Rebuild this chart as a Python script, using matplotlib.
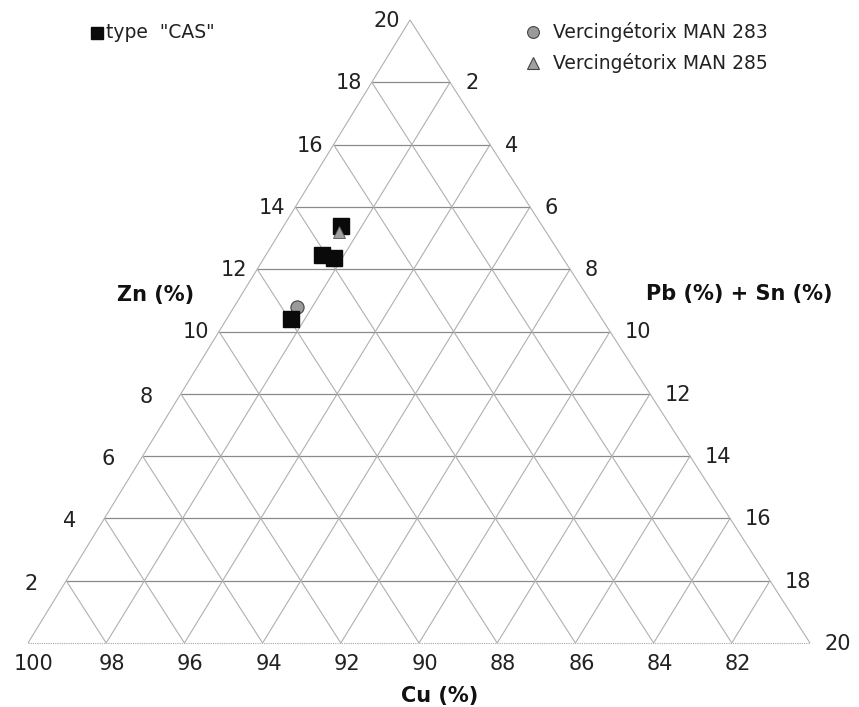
import matplotlib
matplotlib.use("Agg")
import matplotlib.pyplot as plt

plt.rcParams['font.family'] = ['DejaVu Sans']

# ternary data: Zn (%) and Pb+Sn (%), Cu = 100 - Zn - Pb
cas_zn = [13.4, 12.45, 12.35, 10.4]
cas_pb = [1.45, 1.45, 1.8, 1.65]
man283_zn = [10.8]
man283_pb = [1.6]
man285_zn = [13.2]
man285_pb = [1.5]

grid_steps = [2, 4, 6, 8, 10, 12, 14, 16, 18]
zn_ticks = [2, 4, 6, 8, 10, 12, 14, 16, 18, 20]
pb_ticks = [2, 4, 6, 8, 10, 12, 14, 16, 18, 20]
cu_ticks = [100, 98, 96, 94, 92, 90, 88, 86, 84, 82]

W, H = 859, 707
APEX_X = (410 - 28) / 782.0


def tern(zn, pb):
    a = zn / 20.0
    b = pb / 20.0
    return b + a * APEX_X, a


fig = plt.figure(figsize=(W / 100, H / 100), dpi=100)
ax = fig.add_axes([28 / W, 64 / H, 782 / W, 623 / H])
ax.set_xlim(0, 1)
ax.set_ylim(0, 1)
ax.set_axis_off()

HCOL = "#8a8a8a"
DCOL = "#b0b0b0"


def seg(p, q, **kw):
    ax.plot([p[0], q[0]], [p[1], q[1]], clip_on=False, solid_capstyle='butt', **kw)


for k in grid_steps:
    seg(tern(k, 0), tern(k, 20 - k), color=HCOL, lw=0.9)
    seg(tern(0, k), tern(20 - k, k), color=DCOL, lw=0.8)
    seg(tern(k, 0), tern(0, k), color=DCOL, lw=0.8)

# outer triangle
seg(tern(0, 0), tern(20, 0), color=DCOL, lw=0.8)
seg(tern(0, 20), tern(20, 0), color=DCOL, lw=0.8)
seg(tern(0, 0), tern(0, 20), color="#a8a8a8", lw=0.8, linestyle=(0, (1, 1)))

lab_kw = dict(textcoords='offset pixels', fontsize=15, color="#222222", annotation_clip=False)
for k in zn_ticks:
    dx, dy = (-10, -1) if k >= 10 else (-28, -3)
    ax.annotate(str(k), xy=tern(k, 0), xytext=(dx, dy), ha='right', va='center', **lab_kw)
for k in pb_ticks:
    ax.annotate(str(k), xy=tern(20 - k, k), xytext=(15, -1), ha='left', va='center', **lab_kw)
for v in cu_ticks:
    ax.annotate(str(v), xy=tern(0, 100 - v), xytext=(6, -21), ha='center', va='center', **lab_kw)

# data points
ax.plot([tern(z, p)[0] for z, p in zip(man283_zn, man283_pb)],
        [tern(z, p)[1] for z, p in zip(man283_zn, man283_pb)],
        'o', ms=9.5, mfc="#9a9a9a", mec="#444444", mew=0.8, clip_on=False)
ax.plot([tern(z, p)[0] for z, p in zip(cas_zn, cas_pb)],
        [tern(z, p)[1] for z, p in zip(cas_zn, cas_pb)],
        's', ms=12, mfc="#0a0a0a", mec="#0a0a0a", clip_on=False)
ax.plot([tern(z, p)[0] for z, p in zip(man285_zn, man285_pb)],
        [tern(z, p)[1] for z, p in zip(man285_zn, man285_pb)],
        '^', ms=8, mfc="#a0a0a0", mec="#555555", mew=0.6, clip_on=False)

# axis titles
fig.text(156 / W, 1 - 295 / H, "Zn (%)", fontsize=15, fontweight='bold', ha='center', va='center', color="#111111")
fig.text(739 / W, 1 - 294 / H, "Pb (%) + Sn (%)", fontsize=15, fontweight='bold', ha='center', va='center', color="#111111")
fig.text(440 / W, 1 - 696 / H, "Cu (%)", fontsize=15, fontweight='bold', ha='center', va='center', color="#111111")

# legends
fig.lines.append(plt.Line2D([97 / W], [1 - 33 / H], marker='s', ms=8.5, mfc="#0a0a0a", mec="#0a0a0a",
                            transform=fig.transFigure))
fig.text(106 / W, 1 - 33 / H, 'type  "CAS"', fontsize=13.5, ha='left', va='center', color="#222222")
fig.lines.append(plt.Line2D([533 / W], [1 - 32 / H], marker='o', ms=8.5, mfc="#9a9a9a", mec="#444444", mew=0.8,
                            transform=fig.transFigure))
fig.text(553 / W, 1 - 32 / H, "Vercingétorix MAN 283", fontsize=13.5, ha='left', va='center', color="#222222")
fig.lines.append(plt.Line2D([533 / W], [1 - 63 / H], marker='^', ms=8.5, mfc="#a0a0a0", mec="#444444", mew=0.8,
                            transform=fig.transFigure))
fig.text(553 / W, 1 - 63 / H, "Vercingétorix MAN 285", fontsize=13.5, ha='left', va='center', color="#222222")

fig.savefig("out.png", dpi=100)
